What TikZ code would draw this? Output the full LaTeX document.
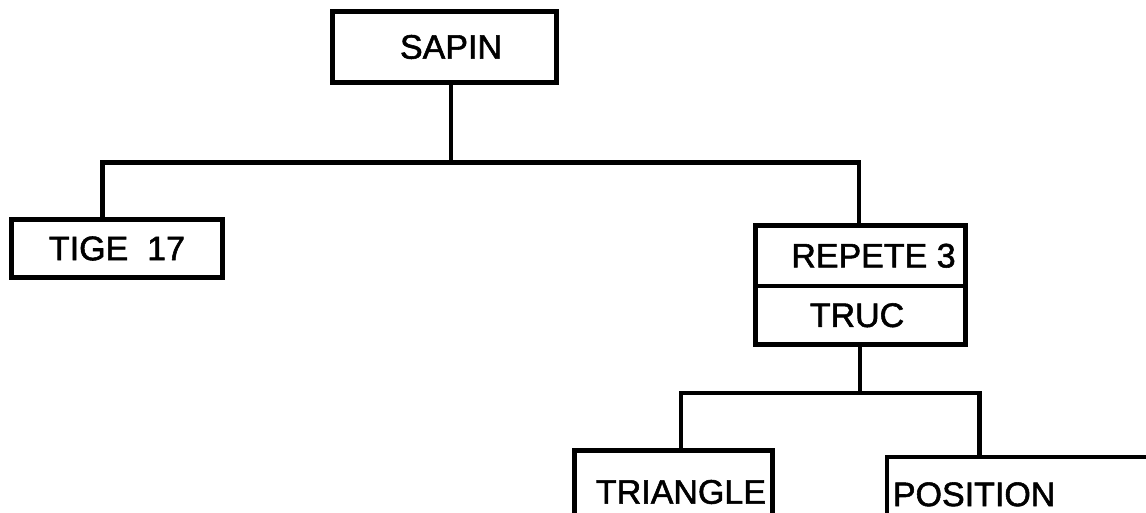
\documentclass[tikz,border=0pt]{standalone}
\usepackage{fontspec}
\setmainfont{Liberation Sans}
\newfontfamily\labfont{Liberation Sans}[FakeBold=1.6]
\begin{document}
\begin{tikzpicture}[x=1pt,y=-1pt,
  box/.style={draw=black, line width=4.8pt, inner sep=0pt, fill=white,
    font=\labfont\fontsize{34}{36}\selectfont, text=black},
  conn/.style={line width=4.5pt, draw=black}]
\useasboundingbox (0,0) rectangle (1146,513);
\clip (0,0) rectangle (1146,513);
% nodes
\node[box, minimum width=224pt, minimum height=71pt] (sapin) at (444.5,47) {\hspace*{13pt}SAPIN};
\node[box, minimum width=211pt, minimum height=58pt] (tige) at (117,248.5) {TIGE\ \ 17};
\node[box, minimum width=210pt, minimum height=60.5pt] (rep) at (860.5,255.75) {\hspace*{26pt}REPETE 3};
\node[box, minimum width=210pt, minimum height=58.5pt] (truc) at (860.5,315.25) {TRUC\hspace*{7pt}};
\node[box, minimum width=198pt, minimum height=83pt] (tri) at (673.5,492) {\hspace*{15pt}TRIANGLE};
\node[box, anchor=north west, inner xsep=6pt, text width=263pt, align=left, minimum height=75pt] (pos) at (884.5,454.5) {POSITION};
% connectors
\coordinate (j1) at (451,162.5);
\coordinate (j2) at (860,393);
\draw[conn] ([xshift=6.5pt]sapin.south) -- (j1);
\draw[conn] ([xshift=-14.5pt]tige.north) |- (j1) -| ([xshift=-1.5pt]rep.north);
\draw[conn] ([xshift=-0.5pt]truc.south) -- (j2);
\draw[conn] ([xshift=7.5pt]tri.north) |- (j2) -| ([xshift=-45pt]pos.north);
\end{tikzpicture}
\end{document}
